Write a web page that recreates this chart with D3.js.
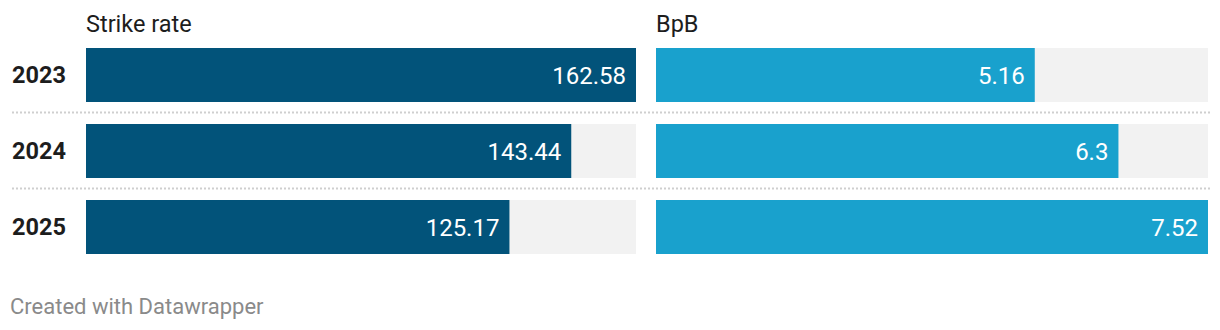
<!DOCTYPE html>
<html>
<head>
<meta charset="utf-8">
<script src="https://cdn.jsdelivr.net/npm/d3@7"></script>
<style>
  html, body { margin: 0; padding: 0; background: #fff; }
  svg { display: block; font-family: Roboto, "Noto Sans", sans-serif; }
</style>
</head>
<body>
<svg id="chart" width="1220" height="330"></svg>
<script>
// Batting numbers by season
const years = ["2023", "2024", "2025"];
const strikeRate = [162.58, 143.44, 125.17];
const ballsPerBoundary = [5.16, 6.3, 7.52];
const panelTitles = ["Strike rate", "BpB"];

const svg = d3.select("#chart");

const rowTop = 48, rowStep = 76, barH = 54;
const gap = rowStep - barH;
const y = d3.scaleBand()
  .domain(years)
  .range([rowTop, rowTop + rowStep * years.length - gap])
  .paddingInner(gap / rowStep)
  .paddingOuter(0);

const panels = [
  { title: panelTitles[0], values: strikeRate, x0: 86, x1: 636, color: "#02537a" },
  { title: panelTitles[1], values: ballsPerBoundary, x0: 656, x1: 1208, color: "#19a1cd" }
];

// dotted row separators
years.slice(1).forEach(yr => {
  const yy = y(yr) - gap / 2 - 0.5;
  svg.append("line")
    .attr("x1", 12).attr("x2", 1210)
    .attr("y1", yy).attr("y2", yy)
    .attr("stroke", "#cfcfcf")
    .attr("stroke-width", 2)
    .attr("stroke-dasharray", "2,2");
});

// row labels
svg.selectAll("text.year")
  .data(years)
  .enter().append("text")
  .attr("class", "year")
  .attr("x", 12)
  .attr("y", d => y(d) + y.bandwidth() / 2)
  .attr("dy", "0.36em")
  .attr("font-size", 23.5)
  .attr("font-weight", 700)
  .attr("fill", "#1d1d1d")
  .text(d => d);

panels.forEach(p => {
  const x = d3.scaleLinear()
    .domain([0, d3.max(p.values)])
    .range([p.x0, p.x1]);

  const g = svg.append("g");

  g.append("text")
    .attr("x", p.x0)
    .attr("y", 32)
    .attr("font-size", 23.5)
    .attr("fill", "#1d1d1d")
    .text(p.title);

  // background tracks
  g.selectAll("rect.track")
    .data(years)
    .enter().append("rect")
    .attr("class", "track")
    .attr("x", p.x0)
    .attr("y", d => y(d))
    .attr("width", p.x1 - p.x0)
    .attr("height", y.bandwidth())
    .attr("fill", "#f2f2f2");

  const rows = years.map((yr, i) => ({ yr, v: p.values[i] }));

  g.selectAll("rect.bar")
    .data(rows)
    .enter().append("rect")
    .attr("class", "bar")
    .attr("x", x(0))
    .attr("y", d => y(d.yr))
    .attr("width", d => x(d.v) - x(0))
    .attr("height", y.bandwidth())
    .attr("fill", p.color);

  g.selectAll("text.val")
    .data(rows)
    .enter().append("text")
    .attr("class", "val")
    .attr("x", d => x(d.v) - 10)
    .attr("y", d => y(d.yr) + y.bandwidth() / 2)
    .attr("dy", "0.36em")
    .attr("text-anchor", "end")
    .attr("font-size", 24)
    .attr("fill", "#ffffff")
    .text(d => d.v);
});

svg.append("text")
  .attr("x", 10)
  .attr("y", 314)
  .attr("font-size", 22)
  .attr("fill", "#8a8a8a")
  .text("Created with Datawrapper");
</script>
</body>
</html>
